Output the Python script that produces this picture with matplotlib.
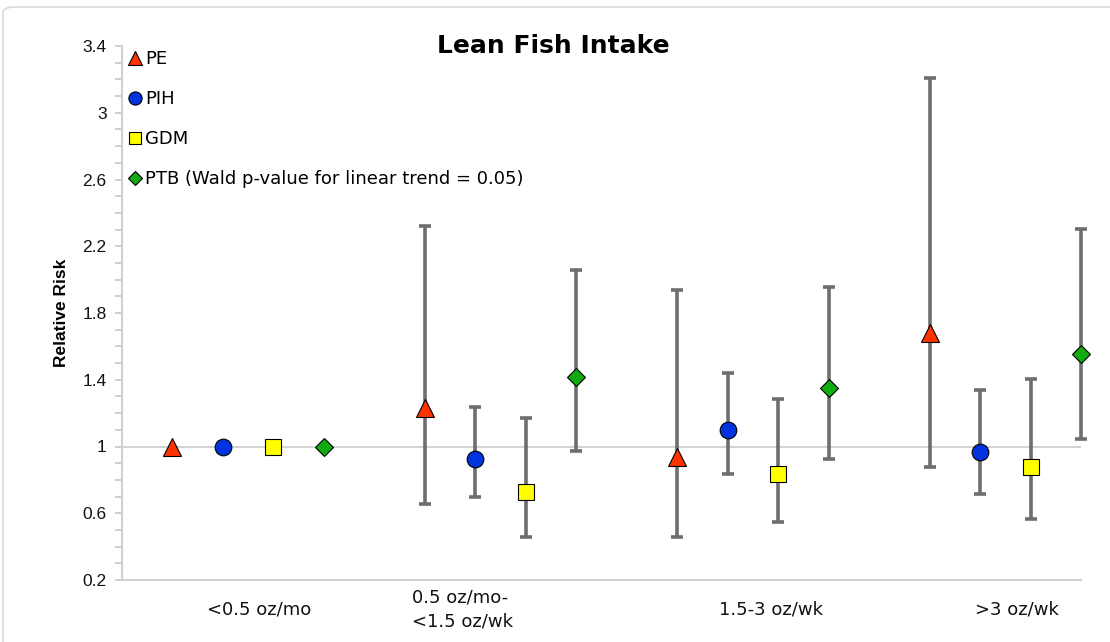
import matplotlib
matplotlib.use("Agg")
import matplotlib.pyplot as plt
import matplotlib.patches as mpatches
import matplotlib.lines as mlines
import matplotlib.transforms as mtransforms
from matplotlib.ticker import MultipleLocator
import numpy as np

# ── DATA ──
grupos = ["<0.5 oz/mo", "0.5 oz/mo-\n<1.5 oz/wk", "1.5-3 oz/wk", ">3 oz/wk"]
series = ["PE", "PIH", "GDM", "PTB"]
leyenda_txt = ["PE", "PIH", "GDM", "PTB (Wald p-value for linear trend = 0.05)"]

pe_rr  = [1.0, 1.23, 0.94, 1.68]
pe_lo  = [1.0, 0.655, 0.46, 0.875]
pe_hi  = [1.0, 2.32, 1.94, 3.21]

pih_rr = [1.0, 0.925, 1.10, 0.97]
pih_lo = [1.0, 0.70, 0.835, 0.715]
pih_hi = [1.0, 1.235, 1.44, 1.34]

gdm_rr = [1.0, 0.725, 0.835, 0.88]
gdm_lo = [1.0, 0.46, 0.545, 0.565]
gdm_hi = [1.0, 1.17, 1.285, 1.405]

ptb_rr = [1.0, 1.415, 1.35, 1.555]
ptb_lo = [1.0, 0.975, 0.925, 1.045]
ptb_hi = [1.0, 2.06, 1.955, 2.305]

# ── STYLE ──
estilos = {
    "PE":  dict(marker="^", color="#FF3300", ms=13, ms_leg=9.5),
    "PIH": dict(marker="o", color="#0033DD", ms=12, ms_leg=9.5),
    "GDM": dict(marker="s", color="#FFFF00", ms=11, ms_leg=9),
    "PTB": dict(marker="D", color="#11AA11", ms=9, ms_leg=7),
}
valores = {
    "PE":  (pe_rr, pe_lo, pe_hi),
    "PIH": (pih_rr, pih_lo, pih_hi),
    "GDM": (gdm_rr, gdm_lo, gdm_hi),
    "PTB": (ptb_rr, ptb_lo, ptb_hi),
}

W, H = 1110, 642
fig = plt.figure(figsize=(W / 100, H / 100), dpi=100)
fig.patch.set_facecolor("white")

# borde gris del área del gráfico
borde = mpatches.FancyBboxPatch((3 / W, -0.05), 1.2, 1.05 - 7 / H,
                                boxstyle="round,pad=0,rounding_size=0.01",
                                transform=fig.transFigure, fill=False,
                                edgecolor="#d9d9d9", linewidth=1.2)
fig.patches.append(borde)

ax = fig.add_axes([122 / W, 62 / H, (1081 - 122) / W, (580 - 46) / H])
ax.set_facecolor("white")

# posiciones: 4 series por grupo + 1 hueco
paso_grupo = len(series) + 1
for j, s in enumerate(series):
    rr, lo, hi = valores[s]
    rr = np.array(rr); lo = np.array(lo); hi = np.array(hi)
    x = np.arange(len(grupos)) * paso_grupo + j
    st = estilos[s]
    err = np.vstack([rr - lo, hi - rr])
    # solo barras de error donde hay intervalo
    m = (hi - lo) > 0
    eb = ax.errorbar(x[m], rr[m], yerr=err[:, m], fmt="none", ecolor="#6E6E6E",
                     elinewidth=2.6, capsize=4, capthick=2.6, zorder=3)
    for art in eb.lines[1] + eb.lines[2]:
        art.set_clip_on(False)
    ax.plot(x, rr, linestyle="none", marker=st["marker"], markersize=st["ms"],
            markerfacecolor=st["color"], markeredgecolor="black",
            markeredgewidth=0.8, zorder=5, clip_on=False)

ax.axhline(1, color="#cccccc", linewidth=1.2, zorder=1)

ax.set_xlim(-1, len(grupos) * paso_grupo - 2)
ax.set_ylim(0.2, 3.4)
ax.yaxis.set_minor_locator(MultipleLocator(0.1))
ax.set_yticks(np.arange(0.2, 3.41, 0.4))
ax.set_yticklabels(["0.2", "0.6", "1", "1.4", "1.8", "2.2", "2.6", "3", "3.4"],
                   fontsize=12.5, family="Liberation Sans", color="#111111")
ax.tick_params(axis="y", which="both", direction="out", length=5,
               color="#c8c8c8", width=1.2, pad=6)
ax.set_xticks([])

for sp in ["top", "right"]:
    ax.spines[sp].set_visible(False)
for sp in ["left", "bottom"]:
    ax.spines[sp].set_color("#d0d0d0")
    ax.spines[sp].set_linewidth(1.5)

ax.set_ylabel("Relative Risk", fontsize=12.5, fontweight="bold",
              family="Liberation Sans", labelpad=10)

# etiquetas de categoría debajo del eje
trans = mtransforms.blended_transform_factory(ax.transData, ax.transAxes)
pos_etq = [1.72, 4.74, 11.86, 16.74]
alin = ["center", "left", "center", "center"]
for g, (txt, px, ha) in enumerate(zip(grupos, pos_etq, alin)):
    ax.text(px, -0.055, txt, transform=trans, ha=ha, va="center",
            fontsize=13, color="#111111", linespacing=1.45,
            multialignment="left")

fig.text(553 / W, 1 - 46 / H, "Lean Fish Intake", fontsize=18,
         fontweight="bold", ha="center", va="center")

# leyenda
handles = []
for s, lab in zip(series, leyenda_txt):
    st = estilos[s]
    handles.append(mlines.Line2D([], [], linestyle="none", marker=st["marker"],
                                 markersize=st["ms_leg"],
                                 markerfacecolor=st["color"],
                                 markeredgecolor="black", markeredgewidth=0.8,
                                 label=lab))
ax.legend(handles=handles, loc="upper left", bbox_to_anchor=(-0.006, 1.016),
          frameon=False, fontsize=13, handlelength=0.7, handletextpad=0.2,
          labelspacing=1.22, borderaxespad=0.3)

fig.savefig("out.png", dpi=100, facecolor=fig.get_facecolor())
